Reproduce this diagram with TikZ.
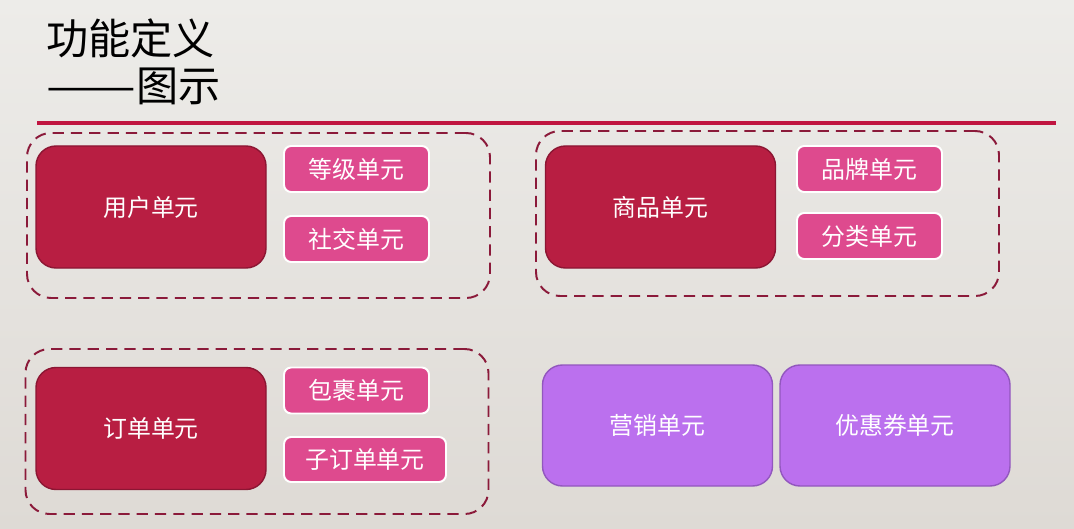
\documentclass[tikz,border=0pt]{standalone}
\usepackage{fontspec}
\setmainfont{Noto Sans CJK SC}
\usetikzlibrary{positioning}
\definecolor{bgtop}{HTML}{EDECE9}
\definecolor{bgbot}{HTML}{DEDAD5}
\definecolor{rulered}{HTML}{C01540}
\definecolor{unitred}{HTML}{B81E42}
\definecolor{unitedge}{HTML}{8C1633}
\definecolor{subpink}{HTML}{DE4A8E}
\definecolor{extpurple}{HTML}{BB70EE}
\definecolor{extedge}{HTML}{9257BE}
\definecolor{grpedge}{HTML}{8B1A3A}

\begin{document}
\begin{tikzpicture}[
  every node/.style={align=center, inner sep=0pt},
  unitbox/.style={rectangle, rounded corners=0.5cm, draw=unitedge, line width=1pt,
                  fill=unitred, text=white, font=\fontsize{17}{20}\selectfont,
                  minimum width=5.75cm, minimum height=3.05cm},
  subbox/.style={rectangle, rounded corners=0.18cm, draw=white, line width=1.4pt,
                 fill=subpink, text=white, font=\fontsize{17}{20}\selectfont,
                 minimum width=3.625cm, minimum height=1.15cm},
  extbox/.style={rectangle, rounded corners=0.5cm, draw=extedge, line width=1pt,
                 fill=extpurple, text=white, font=\fontsize{17}{20}\selectfont,
                 minimum width=5.75cm, minimum height=3.025cm},
  groupbox/.style={rectangle, rounded corners=0.6cm, draw=grpedge, line width=1.4pt,
                   dash pattern=on 8pt off 5pt, minimum width=11.575cm, minimum height=4.125cm}
]

% Background
\shade[top color=bgtop, bottom color=bgbot] (0,0) rectangle (26.85,-13.225);
\useasboundingbox (0,0) rectangle (26.85,-13.225);

% Title
\node[anchor=north west, align=left, font=\fontsize{30}{33.5}\selectfont] (title) at (1.15,-0.45)
  {功能定义\\\scalebox{1.27}[1]{——}图示};
\draw[rulered, line width=2.2pt] (0.925,-3.075) -- (26.4,-3.075);

% Groups
\node[groupbox] (usergrp)  at (6.4625,-5.3875) {};
\node[groupbox] (goodsgrp) at (19.1875,-5.3375) {};
\node[groupbox] (ordergrp) at (6.425,-10.7875) {};

% User
\node[unitbox] (user)   at (3.775,-5.175)  {用户单元};
\node[subbox]  (grade)  at (8.9125,-4.225) {等级单元};
\node[subbox]  (social) at (8.9125,-5.975) {社交单元};

% Goods
\node[unitbox] (goods)    at (16.5125,-5.175) {商品单元};
\node[subbox]  (brand)    at (21.7375,-4.225) {品牌单元};
\node[subbox]  (category) at (21.7375,-5.9)   {分类单元};

% Order
\node[unitbox] (order)    at (3.775,-10.7125)  {订单单元};
\node[subbox]  (parcel)   at (8.9125,-9.7625)  {包裹单元};
\node[subbox, minimum width=4.05cm, minimum height=1.125cm] (suborder) at (9.125,-11.4875) {子订单单元};

% Marketing
\node[extbox] (marketing) at (16.4375,-10.6375) {营销单元};
\node[extbox] (coupon)    at (22.375,-10.6375)  {优惠券单元};

\end{tikzpicture}
\end{document}
